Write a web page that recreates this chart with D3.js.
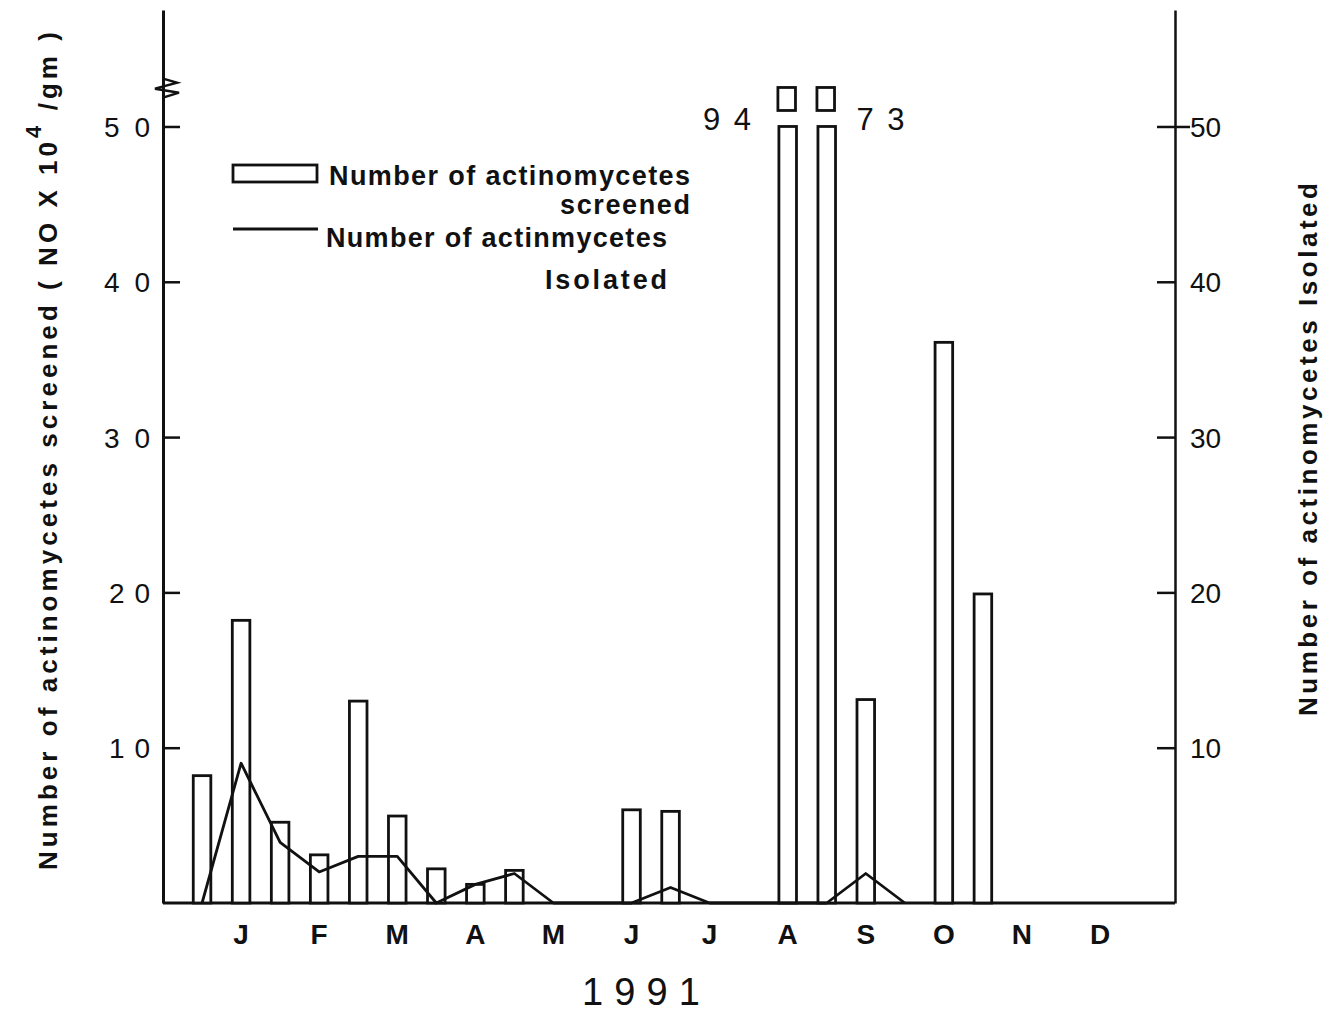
<!DOCTYPE html>
<html>
<head>
<meta charset="utf-8">
<script src="https://cdn.jsdelivr.net/npm/d3@7"></script>
<style>
  html, body { margin: 0; padding: 0; background: #fff; }
  svg { display: block; }
  text { fill: #111; }
</style>
</head>
<body>
<svg id="chart" width="1332" height="1014"></svg>
<script>
// ---- data ----
const monthLabels = ["J","F","M","A","M","J","J","A","S","O","N","D"];
const monthTicks = [1,2,3,4,5,6,7,8,9,10,11,12];
const yearLabel = "1991";

const screenedTime   = [0.5, 1, 1.5, 2, 2.5, 3, 3.5, 4, 4.5, 6, 6.5, 8, 8.5, 9, 10, 10.5];
const screenedValues = [8.2, 18.2, 5.2, 3.1, 13.0, 5.6, 2.2, 1.2, 2.1, 6.0, 5.9, 94, 73, 13.1, 36.1, 19.9];

const isolatedTime   = [0.5, 1, 1.5, 2, 2.5, 3, 3.5, 4, 4.5, 5, 5.5, 6, 6.5, 7, 7.5, 8, 8.5, 9, 9.5];
const isolatedValues = [0, 9.0, 3.9, 2.0, 3.0, 3.0, 0, 1.2, 1.9, 0, 0, 0, 1.0, 0, 0, 0, 0, 1.9, 0];

const yTicks = [10, 20, 30, 40, 50];
const axisCap = 50;   // bars above this value are drawn broken

const leftTitle = "Number of actinomycetes screened ( NO X 10";
const leftTitleSup = "4";
const leftTitleEnd = " /gm )";
const rightTitle = "Number of actinomycetes Isolated";
const legendBarText = ["Number of actinomycetes", "screened"];
const legendLineText = ["Number of actinmycetes", "Isolated"];

// ---- drawing ----
(function () {
const svg = d3.select("#chart");
const FONT = "'Liberation Sans', Arial, sans-serif";
const pL = 163, pR = 1175, pT = 10, pB = 903;

const x = d3.scaleLinear().domain([0, 12.96]).range([pL, pR]);
const y = d3.scaleLinear().domain([0, 57.5]).range([pB, pT]);
const barW = x(0.225) - x(0);

// left axis
const gL = svg.append("g").attr("transform", `translate(${pL},0)`)
  .call(d3.axisLeft(y).tickValues(yTicks).tickSize(-17).tickSizeOuter(0).tickPadding(13));
gL.select(".domain").attr("stroke", "#111").attr("stroke-width", 3);
gL.selectAll(".tick line").attr("stroke", "#111").attr("stroke-width", 2.5);
gL.selectAll(".tick text")
  .attr("font-family", FONT).attr("font-size", 28).attr("fill", "#111")
  .attr("dy", "0.36em")
  .attr("textLength", d => d >= 30 ? 46 : 41)
  .attr("lengthAdjust", "spacing");

// right axis
const gR = svg.append("g").attr("transform", `translate(${pR},0)`)
  .call(d3.axisRight(y).tickValues(yTicks).tickSize(-18).tickSizeOuter(0).tickPadding(15));
gR.select(".domain").attr("stroke", "#111").attr("stroke-width", 2.5);
gR.selectAll(".tick line").attr("stroke", "#111").attr("stroke-width", 2.5);
gR.selectAll(".tick").filter(d => d === 50).append("line")
  .attr("x1", 0).attr("x2", 15).attr("stroke", "#111").attr("stroke-width", 2.5);
gR.selectAll(".tick text")
  .attr("font-family", FONT).attr("font-size", 28).attr("fill", "#111")
  .attr("dy", "0.36em");

// baseline
svg.append("line").attr("x1", pL).attr("x2", pR).attr("y1", pB).attr("y2", pB)
  .attr("stroke", "#111").attr("stroke-width", 3);

// axis break symbol on left axis
const yb = y(52.5);
svg.append("path")
  .attr("d", `M${pL},${yb-9} L${pL+14},${yb-5} L${pL-8},${yb+1} L${pL+16},${yb+5} L${pL},${yb+10}`)
  .attr("fill", "none").attr("stroke", "#111").attr("stroke-width", 2.5);

// bars
svg.append("g").selectAll("rect").data(screenedTime).join("rect")
  .attr("x", d => x(d) - barW / 2)
  .attr("y", (d, i) => y(Math.min(screenedValues[i], axisCap)))
  .attr("width", barW)
  .attr("height", (d, i) => pB - y(Math.min(screenedValues[i], axisCap)))
  .attr("fill", "#fff").attr("stroke", "#111").attr("stroke-width", 2.8);

// broken-bar caps and value labels
const broken = screenedTime.map((t, i) => ({t, v: screenedValues[i], i})).filter(d => d.v > axisCap);
svg.append("g").selectAll("rect").data(broken).join("rect")
  .attr("x", d => x(d.t) - barW / 2 - 1)
  .attr("y", y(axisCap) - 39)
  .attr("width", barW)
  .attr("height", 23)
  .attr("fill", "#fff").attr("stroke", "#111").attr("stroke-width", 2.8);
svg.append("g").selectAll("text").data(broken).join("text")
  .attr("x", (d, k) => k === 0 ? x(d.t) - barW / 2 - 52 : x(d.t) + barW / 2 + 45)
  .attr("y", y(axisCap) + 4)
  .attr("text-anchor", "middle")
  .attr("font-family", FONT).attr("font-size", 31)
  .attr("textLength", 48).attr("lengthAdjust", "spacing")
  .text(d => d.v);

// isolated line
const line = d3.line().x(d => x(d[0])).y(d => y(d[1])).curve(d3.curveLinear);
svg.append("path")
  .datum(isolatedTime.map((t, i) => [t, isolatedValues[i]]))
  .attr("d", line)
  .attr("fill", "none").attr("stroke", "#111").attr("stroke-width", 2.8)
  .attr("stroke-linejoin", "round");

// month labels
svg.append("g").selectAll("text").data(monthTicks).join("text")
  .attr("x", d => x(d)).attr("y", 944)
  .attr("text-anchor", "middle")
  .attr("font-family", FONT).attr("font-weight", "bold").attr("font-size", 28)
  .text((d, i) => monthLabels[i]);

svg.append("text").attr("x", 641).attr("y", 1005)
  .attr("text-anchor", "middle")
  .attr("font-family", FONT).attr("font-size", 38)
  .attr("textLength", 118).attr("lengthAdjust", "spacing")
  .text(yearLabel);

// left axis title
const lt = svg.append("text")
  .attr("transform", "translate(57,870) rotate(-90)")
  .attr("font-family", FONT).attr("font-weight", "bold").attr("font-size", 26)
  .attr("textLength", 838).attr("lengthAdjust", "spacing");
lt.append("tspan").text(leftTitle);
lt.append("tspan").attr("dy", -16).attr("font-size", 22).text(leftTitleSup);
lt.append("tspan").attr("dy", 16).text(leftTitleEnd);

// right axis title
svg.append("text")
  .attr("transform", "translate(1317,716) rotate(-90)")
  .attr("font-family", FONT).attr("font-weight", "bold").attr("font-size", 26)
  .attr("textLength", 533).attr("lengthAdjust", "spacing")
  .text(rightTitle);

// legend
const lg = svg.append("g");
lg.append("rect").attr("x", 233).attr("y", 165).attr("width", 84).attr("height", 17)
  .attr("fill", "#fff").attr("stroke", "#111").attr("stroke-width", 2.8);
lg.append("text").attr("x", 329).attr("y", 185)
  .attr("font-family", FONT).attr("font-weight", "bold").attr("font-size", 27)
  .attr("textLength", 361).attr("lengthAdjust", "spacing").text(legendBarText[0]);
lg.append("text").attr("x", 690).attr("y", 214).attr("text-anchor", "end")
  .attr("font-family", FONT).attr("font-weight", "bold").attr("font-size", 27)
  .attr("textLength", 130).attr("lengthAdjust", "spacing").text(legendBarText[1]);
lg.append("line").attr("x1", 233).attr("x2", 318).attr("y1", 229).attr("y2", 229)
  .attr("stroke", "#111").attr("stroke-width", 2.8);
lg.append("text").attr("x", 326).attr("y", 247)
  .attr("font-family", FONT).attr("font-weight", "bold").attr("font-size", 27)
  .attr("textLength", 341).attr("lengthAdjust", "spacing").text(legendLineText[0]);
lg.append("text").attr("x", 667).attr("y", 289).attr("text-anchor", "end")
  .attr("font-family", FONT).attr("font-weight", "bold").attr("font-size", 27)
  .attr("textLength", 122).attr("lengthAdjust", "spacing").text(legendLineText[1]);
})();
</script>
</body>
</html>
